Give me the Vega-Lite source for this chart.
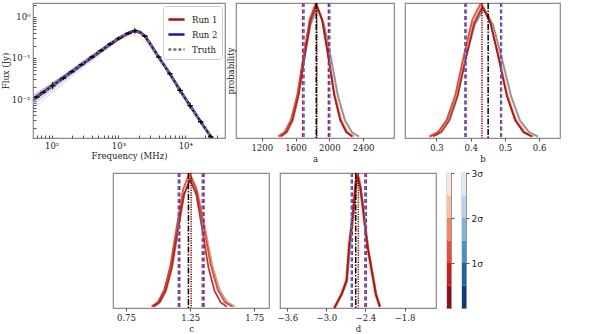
{
 "$schema": "https://vega.github.io/schema/vega-lite/v6.json",
 "padding": {"left": 0, "top": 0, "right": 2, "bottom": 0},
 "background": "white",
 "config": {
  "view": {"stroke": "#8a8a8a", "strokeWidth": 1.2},
  "font": "DejaVu Serif",
  "axis": {"labelFont": "DejaVu Serif", "titleFont": "DejaVu Serif", "labelFontSize": 8.5, "titleFontSize": 8.5, "titleFontWeight": "normal", "labelColor": "#222222", "titleColor": "#222222", "domain": false, "grid": false, "tickColor": "#555555", "tickSize": 3, "labelPadding": 2, "titlePadding": 3, "labelFlush": false, "labelOverlap": false}
 },
 "datasets": {
  "band": [
   {"f": 52.7, "lo": 0.0072, "hi": 0.0125}, {"f": 100, "lo": 0.0165, "hi": 0.0245}, {"f": 300, "lo": 0.063, "hi": 0.086}, {"f": 1000, "lo": 0.27, "hi": 0.33}, {"f": 1300, "lo": 0.345, "hi": 0.41}, {"f": 1700, "lo": 0.42, "hi": 0.505}, {"f": 2100, "lo": 0.39, "hi": 0.47}, {"f": 2500, "lo": 0.315, "hi": 0.37}, {"f": 3000, "lo": 0.205, "hi": 0.235}, {"f": 5900, "lo": 0.038, "hi": 0.0445}, {"f": 11800, "lo": 0.0064, "hi": 0.0075}, {"f": 30000, "lo": 0.00065, "hi": 0.00077}
  ],
  "samp": [
   {"id": "s1", "run": "r", "f": 52.7, "v": 0.0085}, {"id": "s1", "run": "r", "f": 300, "v": 0.068}, {"id": "s1", "run": "r", "f": 1000, "v": 0.26}, {"id": "s1", "run": "r", "f": 1500, "v": 0.36}, {"id": "s1", "run": "r", "f": 2000, "v": 0.34}, {"id": "s1", "run": "r", "f": 3000, "v": 0.19}, {"id": "s1", "run": "r", "f": 5900, "v": 0.038}, {"id": "s1", "run": "r", "f": 11800, "v": 0.0066}, {"id": "s1", "run": "r", "f": 30000, "v": 0.00068},
   {"id": "s2", "run": "r", "f": 52.7, "v": 0.012}, {"id": "s2", "run": "r", "f": 300, "v": 0.085}, {"id": "s2", "run": "r", "f": 1000, "v": 0.33}, {"id": "s2", "run": "r", "f": 1700, "v": 0.5}, {"id": "s2", "run": "r", "f": 2300, "v": 0.42}, {"id": "s2", "run": "r", "f": 3000, "v": 0.24}, {"id": "s2", "run": "r", "f": 5900, "v": 0.044}, {"id": "s2", "run": "r", "f": 11800, "v": 0.0072}, {"id": "s2", "run": "r", "f": 30000, "v": 0.00075},
   {"id": "s3", "run": "r", "f": 52.7, "v": 0.0105}, {"id": "s3", "run": "r", "f": 300, "v": 0.078}, {"id": "s3", "run": "r", "f": 1000, "v": 0.31}, {"id": "s3", "run": "r", "f": 1700, "v": 0.47}, {"id": "s3", "run": "r", "f": 2200, "v": 0.42}, {"id": "s3", "run": "r", "f": 3000, "v": 0.22}, {"id": "s3", "run": "r", "f": 5900, "v": 0.041}, {"id": "s3", "run": "r", "f": 11800, "v": 0.0068}, {"id": "s3", "run": "r", "f": 30000, "v": 0.0007},
   {"id": "s4", "run": "b", "f": 52.7, "v": 0.006}, {"id": "s4", "run": "b", "f": 300, "v": 0.06}, {"id": "s4", "run": "b", "f": 1000, "v": 0.28}, {"id": "s4", "run": "b", "f": 1700, "v": 0.44}, {"id": "s4", "run": "b", "f": 2200, "v": 0.4}, {"id": "s4", "run": "b", "f": 3000, "v": 0.22}, {"id": "s4", "run": "b", "f": 5900, "v": 0.042}, {"id": "s4", "run": "b", "f": 11800, "v": 0.0071}, {"id": "s4", "run": "b", "f": 30000, "v": 0.00074},
   {"id": "s5", "run": "b", "f": 52.7, "v": 0.0072}, {"id": "s5", "run": "b", "f": 300, "v": 0.066}, {"id": "s5", "run": "b", "f": 1000, "v": 0.29}, {"id": "s5", "run": "b", "f": 1700, "v": 0.45}, {"id": "s5", "run": "b", "f": 2200, "v": 0.41}, {"id": "s5", "run": "b", "f": 3000, "v": 0.22}, {"id": "s5", "run": "b", "f": 5900, "v": 0.042}, {"id": "s5", "run": "b", "f": 11800, "v": 0.007}, {"id": "s5", "run": "b", "f": 30000, "v": 0.00072},
   {"id": "s6", "run": "b", "f": 52.7, "v": 0.0115}, {"id": "s6", "run": "b", "f": 300, "v": 0.082}, {"id": "s6", "run": "b", "f": 1000, "v": 0.32}, {"id": "s6", "run": "b", "f": 1700, "v": 0.49}, {"id": "s6", "run": "b", "f": 2200, "v": 0.44}, {"id": "s6", "run": "b", "f": 3000, "v": 0.23}, {"id": "s6", "run": "b", "f": 5900, "v": 0.043}, {"id": "s6", "run": "b", "f": 11800, "v": 0.0071}, {"id": "s6", "run": "b", "f": 30000, "v": 0.00073}
  ],
  "main": [
   {"s": "Run 1", "f": 52.7, "v": 0.0098}, {"s": "Run 1", "f": 100, "v": 0.0206}, {"s": "Run 1", "f": 200, "v": 0.046}, {"s": "Run 1", "f": 400, "v": 0.103}, {"s": "Run 1", "f": 700, "v": 0.198}, {"s": "Run 1", "f": 1000, "v": 0.29}, {"s": "Run 1", "f": 1300, "v": 0.37}, {"s": "Run 1", "f": 1600, "v": 0.43}, {"s": "Run 1", "f": 1800, "v": 0.45}, {"s": "Run 1", "f": 2100, "v": 0.42}, {"s": "Run 1", "f": 2500, "v": 0.335}, {"s": "Run 1", "f": 3000, "v": 0.218}, {"s": "Run 1", "f": 4000, "v": 0.105}, {"s": "Run 1", "f": 5900, "v": 0.041}, {"s": "Run 1", "f": 8360, "v": 0.0161}, {"s": "Run 1", "f": 11800, "v": 0.0068}, {"s": "Run 1", "f": 17000, "v": 0.0028}, {"s": "Run 1", "f": 25000, "v": 0.0011}, {"s": "Run 1", "f": 30000, "v": 0.0007},
   {"s": "Run 2", "f": 52.7, "v": 0.0096}, {"s": "Run 2", "f": 100, "v": 0.0204}, {"s": "Run 2", "f": 200, "v": 0.0464}, {"s": "Run 2", "f": 400, "v": 0.105}, {"s": "Run 2", "f": 700, "v": 0.203}, {"s": "Run 2", "f": 1000, "v": 0.3}, {"s": "Run 2", "f": 1300, "v": 0.38}, {"s": "Run 2", "f": 1600, "v": 0.44}, {"s": "Run 2", "f": 1800, "v": 0.46}, {"s": "Run 2", "f": 2100, "v": 0.43}, {"s": "Run 2", "f": 2500, "v": 0.34}, {"s": "Run 2", "f": 3000, "v": 0.22}, {"s": "Run 2", "f": 4000, "v": 0.105}, {"s": "Run 2", "f": 5900, "v": 0.041}, {"s": "Run 2", "f": 8360, "v": 0.0162}, {"s": "Run 2", "f": 11800, "v": 0.0069}, {"s": "Run 2", "f": 17000, "v": 0.0028}, {"s": "Run 2", "f": 25000, "v": 0.00112}, {"s": "Run 2", "f": 30000, "v": 0.0007},
   {"s": "Truth", "f": 52.7, "v": 0.0096}, {"s": "Truth", "f": 100, "v": 0.0204}, {"s": "Truth", "f": 200, "v": 0.0464}, {"s": "Truth", "f": 400, "v": 0.105}, {"s": "Truth", "f": 700, "v": 0.203}, {"s": "Truth", "f": 1000, "v": 0.3}, {"s": "Truth", "f": 1300, "v": 0.38}, {"s": "Truth", "f": 1600, "v": 0.44}, {"s": "Truth", "f": 1800, "v": 0.46}, {"s": "Truth", "f": 2100, "v": 0.43}, {"s": "Truth", "f": 2500, "v": 0.34}, {"s": "Truth", "f": 3000, "v": 0.22}, {"s": "Truth", "f": 4000, "v": 0.105}, {"s": "Truth", "f": 5900, "v": 0.041}, {"s": "Truth", "f": 8360, "v": 0.0162}, {"s": "Truth", "f": 11800, "v": 0.0069}, {"s": "Truth", "f": 17000, "v": 0.0028}, {"s": "Truth", "f": 25000, "v": 0.00112}, {"s": "Truth", "f": 30000, "v": 0.0007}
  ],
  "pts": [
   {"f": 60, "v": 0.0112, "lo": 0.0102, "hi": 0.0123}, {"f": 75, "v": 0.0145, "lo": 0.0132, "hi": 0.0159}, {"f": 104, "v": 0.021, "lo": 0.0172, "hi": 0.026}, {"f": 150, "v": 0.032, "lo": 0.029, "hi": 0.035}, {"f": 200, "v": 0.046, "lo": 0.042, "hi": 0.05}, {"f": 280, "v": 0.069, "lo": 0.063, "hi": 0.076}, {"f": 400, "v": 0.105, "lo": 0.096, "hi": 0.115}, {"f": 550, "v": 0.152, "lo": 0.139, "hi": 0.166}, {"f": 750, "v": 0.22, "lo": 0.2, "hi": 0.24}, {"f": 1000, "v": 0.3, "lo": 0.275, "hi": 0.33}, {"f": 1400, "v": 0.4, "lo": 0.365, "hi": 0.44}, {"f": 1758, "v": 0.46, "lo": 0.39, "hi": 0.54}, {"f": 2500, "v": 0.34, "lo": 0.31, "hi": 0.37}, {"f": 4000, "v": 0.105, "lo": 0.096, "hi": 0.115}, {"f": 5900, "v": 0.041, "lo": 0.037, "hi": 0.045}, {"f": 8360, "v": 0.0162, "lo": 0.0138, "hi": 0.019}, {"f": 11800, "v": 0.0069, "lo": 0.0058, "hi": 0.0082}, {"f": 17000, "v": 0.0028, "lo": 0.0025, "hi": 0.0031}, {"f": 24000, "v": 0.0012, "lo": 0.0011, "hi": 0.0013}
  ],
  "a": [
   {"k": "A", "x": 1390, "y": 0.011}, {"k": "A", "x": 1467, "y": 0.042}, {"k": "A", "x": 1545, "y": 0.13}, {"k": "A", "x": 1622, "y": 0.31}, {"k": "A", "x": 1700, "y": 0.59}, {"k": "A", "x": 1777, "y": 0.84}, {"k": "A", "x": 1855, "y": 0.96}, {"k": "A", "x": 1937, "y": 0.84}, {"k": "A", "x": 2020, "y": 0.59}, {"k": "A", "x": 2102, "y": 0.31}, {"k": "A", "x": 2185, "y": 0.13}, {"k": "A", "x": 2267, "y": 0.042}, {"k": "A", "x": 2350, "y": 0.011},
   {"k": "B", "x": 1395, "y": 0.011}, {"k": "B", "x": 1470, "y": 0.043}, {"k": "B", "x": 1545, "y": 0.132}, {"k": "B", "x": 1620, "y": 0.31}, {"k": "B", "x": 1695, "y": 0.6}, {"k": "B", "x": 1770, "y": 0.86}, {"k": "B", "x": 1845, "y": 0.98}, {"k": "B", "x": 1920, "y": 0.86}, {"k": "B", "x": 1995, "y": 0.6}, {"k": "B", "x": 2070, "y": 0.31}, {"k": "B", "x": 2145, "y": 0.132}, {"k": "B", "x": 2220, "y": 0.043}, {"k": "B", "x": 2295, "y": 0.011},
   {"k": "C", "x": 1405, "y": 0.011}, {"k": "C", "x": 1477, "y": 0.044}, {"k": "C", "x": 1550, "y": 0.135}, {"k": "C", "x": 1622, "y": 0.32}, {"k": "C", "x": 1695, "y": 0.61}, {"k": "C", "x": 1767, "y": 0.88}, {"k": "C", "x": 1840, "y": 1.0}, {"k": "C", "x": 1912, "y": 0.88}, {"k": "C", "x": 1985, "y": 0.61}, {"k": "C", "x": 2057, "y": 0.32}, {"k": "C", "x": 2130, "y": 0.135}, {"k": "C", "x": 2202, "y": 0.044}, {"k": "C", "x": 2275, "y": 0.011},
   {"k": "D", "x": 1428, "y": 0.011}, {"k": "D", "x": 1498, "y": 0.044}, {"k": "D", "x": 1568, "y": 0.134}, {"k": "D", "x": 1638, "y": 0.32}, {"k": "D", "x": 1708, "y": 0.6}, {"k": "D", "x": 1778, "y": 0.87}, {"k": "D", "x": 1848, "y": 0.99}, {"k": "D", "x": 1918, "y": 0.87}, {"k": "D", "x": 1988, "y": 0.6}, {"k": "D", "x": 2058, "y": 0.32}, {"k": "D", "x": 2128, "y": 0.134}, {"k": "D", "x": 2198, "y": 0.044}, {"k": "D", "x": 2268, "y": 0.011},
   {"k": "r1", "x": 1685}, {"k": "r1", "x": 1990}, {"k": "r2", "x": 1700}, {"k": "r2", "x": 2005}, {"k": "m", "x": 1852}, {"k": "t", "x": 1845}
  ],
  "b": [
   {"k": "A", "x": 0.279, "y": 0.011}, {"k": "A", "x": 0.306, "y": 0.042}, {"k": "A", "x": 0.332, "y": 0.13}, {"k": "A", "x": 0.359, "y": 0.31}, {"k": "A", "x": 0.385, "y": 0.59}, {"k": "A", "x": 0.412, "y": 0.84}, {"k": "A", "x": 0.438, "y": 0.96}, {"k": "A", "x": 0.465, "y": 0.84}, {"k": "A", "x": 0.491, "y": 0.59}, {"k": "A", "x": 0.518, "y": 0.31}, {"k": "A", "x": 0.544, "y": 0.13}, {"k": "A", "x": 0.571, "y": 0.042}, {"k": "A", "x": 0.597, "y": 0.011},
   {"k": "B", "x": 0.279, "y": 0.011}, {"k": "B", "x": 0.305, "y": 0.043}, {"k": "B", "x": 0.33, "y": 0.132}, {"k": "B", "x": 0.356, "y": 0.31}, {"k": "B", "x": 0.381, "y": 0.6}, {"k": "B", "x": 0.407, "y": 0.86}, {"k": "B", "x": 0.432, "y": 0.98}, {"k": "B", "x": 0.458, "y": 0.86}, {"k": "B", "x": 0.483, "y": 0.6}, {"k": "B", "x": 0.509, "y": 0.31}, {"k": "B", "x": 0.534, "y": 0.132}, {"k": "B", "x": 0.56, "y": 0.043}, {"k": "B", "x": 0.585, "y": 0.011},
   {"k": "C", "x": 0.28, "y": 0.011}, {"k": "C", "x": 0.305, "y": 0.044}, {"k": "C", "x": 0.33, "y": 0.135}, {"k": "C", "x": 0.355, "y": 0.32}, {"k": "C", "x": 0.38, "y": 0.61}, {"k": "C", "x": 0.405, "y": 0.88}, {"k": "C", "x": 0.43, "y": 1.0}, {"k": "C", "x": 0.455, "y": 0.88}, {"k": "C", "x": 0.48, "y": 0.61}, {"k": "C", "x": 0.505, "y": 0.32}, {"k": "C", "x": 0.53, "y": 0.135}, {"k": "C", "x": 0.555, "y": 0.044}, {"k": "C", "x": 0.58, "y": 0.011},
   {"k": "D", "x": 0.29, "y": 0.011}, {"k": "D", "x": 0.314, "y": 0.043}, {"k": "D", "x": 0.338, "y": 0.131}, {"k": "D", "x": 0.362, "y": 0.31}, {"k": "D", "x": 0.386, "y": 0.59}, {"k": "D", "x": 0.41, "y": 0.85}, {"k": "D", "x": 0.434, "y": 0.97}, {"k": "D", "x": 0.458, "y": 0.85}, {"k": "D", "x": 0.482, "y": 0.59}, {"k": "D", "x": 0.506, "y": 0.31}, {"k": "D", "x": 0.53, "y": 0.131}, {"k": "D", "x": 0.554, "y": 0.043}, {"k": "D", "x": 0.578, "y": 0.011},
   {"k": "r1", "x": 0.386}, {"k": "r1", "x": 0.488}, {"k": "r2", "x": 0.383}, {"k": "r2", "x": 0.49}, {"k": "m", "x": 0.433}, {"k": "t", "x": 0.451}
  ],
  "c": [
   {"k": "A", "x": 0.95, "y": 0.011}, {"k": "A", "x": 1.0, "y": 0.042}, {"k": "A", "x": 1.05, "y": 0.13}, {"k": "A", "x": 1.1, "y": 0.31}, {"k": "A", "x": 1.15, "y": 0.59}, {"k": "A", "x": 1.2, "y": 0.84}, {"k": "A", "x": 1.25, "y": 0.96}, {"k": "A", "x": 1.308, "y": 0.84}, {"k": "A", "x": 1.365, "y": 0.59}, {"k": "A", "x": 1.423, "y": 0.31}, {"k": "A", "x": 1.48, "y": 0.13}, {"k": "A", "x": 1.538, "y": 0.042}, {"k": "A", "x": 1.595, "y": 0.011},
   {"k": "B", "x": 0.97, "y": 0.011}, {"k": "B", "x": 1.018, "y": 0.043}, {"k": "B", "x": 1.065, "y": 0.132}, {"k": "B", "x": 1.113, "y": 0.31}, {"k": "B", "x": 1.16, "y": 0.6}, {"k": "B", "x": 1.208, "y": 0.86}, {"k": "B", "x": 1.255, "y": 0.98}, {"k": "B", "x": 1.31, "y": 0.86}, {"k": "B", "x": 1.365, "y": 0.6}, {"k": "B", "x": 1.42, "y": 0.31}, {"k": "B", "x": 1.475, "y": 0.132}, {"k": "B", "x": 1.53, "y": 0.043}, {"k": "B", "x": 1.585, "y": 0.011},
   {"k": "C", "x": 0.951, "y": 0.011}, {"k": "C", "x": 1.0, "y": 0.044}, {"k": "C", "x": 1.049, "y": 0.135}, {"k": "C", "x": 1.098, "y": 0.32}, {"k": "C", "x": 1.147, "y": 0.61}, {"k": "C", "x": 1.196, "y": 0.88}, {"k": "C", "x": 1.245, "y": 1.0}, {"k": "C", "x": 1.3, "y": 0.88}, {"k": "C", "x": 1.355, "y": 0.61}, {"k": "C", "x": 1.41, "y": 0.32}, {"k": "C", "x": 1.465, "y": 0.135}, {"k": "C", "x": 1.52, "y": 0.044}, {"k": "C", "x": 1.575, "y": 0.011},
   {"k": "D", "x": 0.965, "y": 0.01}, {"k": "D", "x": 1.013, "y": 0.042}, {"k": "D", "x": 1.06, "y": 0.128}, {"k": "D", "x": 1.108, "y": 0.3}, {"k": "D", "x": 1.155, "y": 0.58}, {"k": "D", "x": 1.203, "y": 0.84}, {"k": "D", "x": 1.25, "y": 0.95}, {"k": "D", "x": 1.298, "y": 0.84}, {"k": "D", "x": 1.345, "y": 0.58}, {"k": "D", "x": 1.393, "y": 0.3}, {"k": "D", "x": 1.44, "y": 0.128}, {"k": "D", "x": 1.488, "y": 0.042}, {"k": "D", "x": 1.535, "y": 0.01},
   {"k": "r1", "x": 1.168}, {"k": "r1", "x": 1.357}, {"k": "r2", "x": 1.158}, {"k": "r2", "x": 1.345}, {"k": "m", "x": 1.258}, {"k": "t", "x": 1.237}
  ],
  "d": [
   {"k": "A", "x": -2.87, "y": 0}, {"k": "A", "x": -2.76, "y": 0.1}, {"k": "A", "x": -2.68, "y": 0.2}, {"k": "A", "x": -2.64, "y": 0.45}, {"k": "A", "x": -2.58, "y": 0.69}, {"k": "A", "x": -2.54, "y": 0.9}, {"k": "A", "x": -2.51, "y": 0.96}, {"k": "A", "x": -2.47, "y": 0.88}, {"k": "A", "x": -2.43, "y": 0.73}, {"k": "A", "x": -2.39, "y": 0.57}, {"k": "A", "x": -2.35, "y": 0.42}, {"k": "A", "x": -2.3, "y": 0.29}, {"k": "A", "x": -2.23, "y": 0.1}, {"k": "A", "x": -2.17, "y": 0.01},
   {"k": "B", "x": -2.89, "y": 0}, {"k": "B", "x": -2.78, "y": 0.1}, {"k": "B", "x": -2.7, "y": 0.21}, {"k": "B", "x": -2.66, "y": 0.46}, {"k": "B", "x": -2.6, "y": 0.71}, {"k": "B", "x": -2.56, "y": 0.92}, {"k": "B", "x": -2.53, "y": 0.98}, {"k": "B", "x": -2.49, "y": 0.9}, {"k": "B", "x": -2.45, "y": 0.74}, {"k": "B", "x": -2.41, "y": 0.58}, {"k": "B", "x": -2.37, "y": 0.43}, {"k": "B", "x": -2.32, "y": 0.29}, {"k": "B", "x": -2.25, "y": 0.1}, {"k": "B", "x": -2.19, "y": 0.01},
   {"k": "C", "x": -2.88, "y": 0}, {"k": "C", "x": -2.77, "y": 0.1}, {"k": "C", "x": -2.69, "y": 0.21}, {"k": "C", "x": -2.65, "y": 0.47}, {"k": "C", "x": -2.59, "y": 0.72}, {"k": "C", "x": -2.55, "y": 0.94}, {"k": "C", "x": -2.52, "y": 1.0}, {"k": "C", "x": -2.48, "y": 0.92}, {"k": "C", "x": -2.44, "y": 0.76}, {"k": "C", "x": -2.4, "y": 0.59}, {"k": "C", "x": -2.36, "y": 0.44}, {"k": "C", "x": -2.31, "y": 0.3}, {"k": "C", "x": -2.24, "y": 0.1}, {"k": "C", "x": -2.18, "y": 0.01},
   {"k": "D", "x": -2.88, "y": 0}, {"k": "D", "x": -2.77, "y": 0.1}, {"k": "D", "x": -2.69, "y": 0.2}, {"k": "D", "x": -2.65, "y": 0.46}, {"k": "D", "x": -2.59, "y": 0.7}, {"k": "D", "x": -2.55, "y": 0.91}, {"k": "D", "x": -2.52, "y": 0.97}, {"k": "D", "x": -2.48, "y": 0.89}, {"k": "D", "x": -2.44, "y": 0.74}, {"k": "D", "x": -2.4, "y": 0.57}, {"k": "D", "x": -2.36, "y": 0.43}, {"k": "D", "x": -2.31, "y": 0.29}, {"k": "D", "x": -2.24, "y": 0.1}, {"k": "D", "x": -2.18, "y": 0.01},
   {"k": "r1", "x": -2.605}, {"k": "r1", "x": -2.39}, {"k": "r2", "x": -2.617}, {"k": "r2", "x": -2.41}, {"k": "m", "x": -2.51}, {"k": "t", "x": -2.55}
  ],
  "cb": [
   {"b": 1, "lo": 0, "hi": 0.5}, {"b": 2, "lo": 0.5, "hi": 1}, {"b": 3, "lo": 1, "hi": 1.5}, {"b": 4, "lo": 1.5, "hi": 2}, {"b": 5, "lo": 2, "hi": 2.5}, {"b": 6, "lo": 2.5, "hi": 3}
  ]
 },
 "spacing": 4,
 "resolve": {"scale": {"color": "independent", "strokeDash": "independent", "strokeWidth": "independent"}, "legend": {"color": "independent", "strokeDash": "independent", "strokeWidth": "independent"}},
 "vconcat": [
  {
   "spacing": 11,
   "bounds": "flush",
   "resolve": {"scale": {"color": "independent", "strokeDash": "independent", "strokeWidth": "independent"}, "legend": {"color": "independent", "strokeDash": "independent", "strokeWidth": "independent"}},
   "hconcat": [
    {
     "width": 192,
     "height": 135,
     "layer": [
      {
       "data": {"name": "band"},
       "mark": {"type": "area", "color": "#b4b0e4", "opacity": 0.5, "clip": true},
       "encoding": {
        "x": {"field": "f", "type": "quantitative", "scale": {"type": "log", "domain": [52.7, 39300], "nice": false},
         "axis": {"title": "Frequency (MHz)", "values": [60, 70, 80, 90, 100, 200, 300, 400, 500, 600, 700, 800, 900, 1000, 2000, 3000, 4000, 5000, 6000, 7000, 8000, 9000, 10000, 20000, 30000], "labelExpr": "datum.value==100?'10²':datum.value==1000?'10³':datum.value==10000?'10⁴':''", "tickSize": -3, "labelPadding": 6, "titlePadding": 2}},
        "y": {"field": "lo", "type": "quantitative", "scale": {"type": "log", "domain": [0.00112, 2.19], "nice": false},
         "axis": {"title": "Flux (Jy)", "values": [0.002, 0.003, 0.004, 0.005, 0.006, 0.007, 0.008, 0.009, 0.01, 0.02, 0.03, 0.04, 0.05, 0.06, 0.07, 0.08, 0.09, 0.1, 0.2, 0.3, 0.4, 0.5, 0.6, 0.7, 0.8, 0.9, 1, 2], "labelExpr": "datum.value==1?'10⁰':datum.value==0.1?'10⁻¹':datum.value==0.01?'10⁻²':''", "tickSize": -3, "labelPadding": 6, "titlePadding": 1}},
        "y2": {"field": "hi"}
       }
      },
      {
       "data": {"name": "samp"},
       "transform": [{"filter": "datum.run=='r'"}],
       "mark": {"type": "line", "color": "#f08a8a", "strokeWidth": 0.8, "opacity": 0.5, "clip": true},
       "encoding": {"x": {"field": "f", "type": "quantitative"}, "y": {"field": "v", "type": "quantitative"}, "detail": {"field": "id"}}
      },
      {
       "data": {"name": "samp"},
       "transform": [{"filter": "datum.run=='b'"}],
       "mark": {"type": "line", "color": "#8c8ce6", "strokeWidth": 0.8, "opacity": 0.5, "clip": true},
       "encoding": {"x": {"field": "f", "type": "quantitative"}, "y": {"field": "v", "type": "quantitative"}, "detail": {"field": "id"}}
      },
      {
       "data": {"name": "main"},
       "mark": {"type": "line", "clip": true},
       "encoding": {
        "x": {"field": "f", "type": "quantitative"},
        "y": {"field": "v", "type": "quantitative"},
        "color": {"field": "s", "type": "nominal", "scale": {"domain": ["Run 1", "Run 2", "Truth"], "range": ["#a31515", "#1a1aa6", "#707070"]},
         "legend": {"orient": "top-right", "offset": 3, "title": null, "fillColor": "white", "strokeColor": "#cccccc", "padding": 4, "cornerRadius": 3, "labelFont": "DejaVu Serif", "labelFontSize": 8.5, "labelColor": "#222222", "symbolType": "stroke", "symbolSize": 260, "rowPadding": -5, "labelOffset": 6}},
        "strokeDash": {"field": "s", "type": "nominal", "scale": {"domain": ["Run 1", "Run 2", "Truth"], "range": [[1, 0], [1, 0], [3, 2]]}, "legend": {"orient": "top-right", "offset": 3, "title": null, "fillColor": "white", "strokeColor": "#cccccc", "padding": 4, "cornerRadius": 3, "labelFont": "DejaVu Serif", "labelFontSize": 8.5, "labelColor": "#222222", "symbolType": "stroke", "symbolSize": 260, "rowPadding": -5, "labelOffset": 6}},
        "strokeWidth": {"field": "s", "type": "ordinal", "scale": {"domain": ["Run 1", "Run 2", "Truth"], "range": [2.6, 2.4, 1]}, "legend": {"orient": "top-right", "offset": 3, "title": null, "fillColor": "white", "strokeColor": "#cccccc", "padding": 4, "cornerRadius": 3, "labelFont": "DejaVu Serif", "labelFontSize": 8.5, "labelColor": "#222222", "symbolType": "stroke", "symbolSize": 260, "rowPadding": -5, "labelOffset": 6}}
       }
      },
      {
       "data": {"name": "pts"},
       "mark": {"type": "rule", "color": "#000000", "strokeWidth": 1, "clip": true},
       "encoding": {"x": {"field": "f", "type": "quantitative"}, "y": {"field": "lo", "type": "quantitative"}, "y2": {"field": "hi"}}
      },
      {
       "data": {"name": "pts"},
       "mark": {"type": "point", "shape": "M-1,0L1,0", "size": 30, "filled": false, "stroke": "#000000", "strokeWidth": 1.3, "opacity": 1, "clip": true},
       "encoding": {"x": {"field": "f", "type": "quantitative"}, "y": {"field": "v", "type": "quantitative"}}
      }
     ]
    },
    {
     "width": 158,
     "height": 135,
     "data": {"name": "a"},
     "layer": [
      {
       "transform": [{"filter": "isValid(datum.y)"}],
       "mark": {"type": "line", "clip": true, "opacity": 0.8},
       "encoding": {
        "x": {"field": "x", "type": "quantitative", "scale": {"domain": [895, 2765], "nice": false, "zero": false}, "axis": {"values": [1200, 1600, 2000, 2400], "format": "d", "title": "a"}},
        "y": {"field": "y", "type": "quantitative", "scale": {"domain": [0, 1], "nice": false}, "axis": {"title": "probability", "labels": false, "ticks": false, "titlePadding": 1}},
        "color": {"field": "k", "type": "nominal", "scale": {"domain": ["A", "B", "C", "D", "r1", "r2", "m", "t"], "range": ["#7a7a7a", "#f4a582", "#e0301e", "#9b0d0d", "#c4162a", "#4a6fe0", "#8b0000", "#000000"]}, "legend": null},
        "strokeWidth": {"field": "k", "type": "ordinal", "scale": {"domain": ["A", "B", "C", "D", "r1", "r2", "m", "t"], "range": [2, 1.5, 1.2, 1, 1.4, 1.4, 1, 1.4]}, "legend": null},
        "strokeDash": {"field": "k", "type": "nominal", "scale": {"domain": ["A", "B", "C", "D", "r1", "r2", "m", "t"], "range": [[1, 0], [1, 0], [1, 0], [1, 0], [4, 2.5], [4, 2.5], [1.2, 1.2], [6, 1.5, 1.5, 1.5]]}, "legend": null}
       }
      },
      {
       "transform": [{"filter": "!isValid(datum.y)"}],
       "mark": {"type": "rule"},
       "encoding": {
        "x": {"field": "x", "type": "quantitative"},
        "color": {"field": "k", "type": "nominal", "scale": {"domain": ["A", "B", "C", "D", "r1", "r2", "m", "t"], "range": ["#7a7a7a", "#f4a582", "#e0301e", "#9b0d0d", "#c4162a", "#4a6fe0", "#8b0000", "#000000"]}, "legend": null},
        "strokeWidth": {"field": "k", "type": "ordinal", "scale": {"domain": ["A", "B", "C", "D", "r1", "r2", "m", "t"], "range": [2, 1.5, 1.2, 1, 1.4, 1.4, 1, 1.4]}, "legend": null},
        "strokeDash": {"field": "k", "type": "nominal", "scale": {"domain": ["A", "B", "C", "D", "r1", "r2", "m", "t"], "range": [[1, 0], [1, 0], [1, 0], [1, 0], [4, 2.5], [4, 2.5], [1.2, 1.2], [6, 1.5, 1.5, 1.5]]}, "legend": null}
       }
      }
     ]
    },
    {
     "width": 155,
     "height": 135,
     "data": {"name": "b"},
     "layer": [
      {
       "transform": [{"filter": "isValid(datum.y)"}],
       "mark": {"type": "line", "clip": true, "opacity": 0.8},
       "encoding": {
        "x": {"field": "x", "type": "quantitative", "scale": {"domain": [0.208, 0.661], "nice": false, "zero": false}, "axis": {"values": [0.3, 0.4, 0.5, 0.6], "format": ".1f", "title": "b"}},
        "y": {"field": "y", "type": "quantitative", "scale": {"domain": [0, 1], "nice": false}, "axis": null},
        "color": {"field": "k", "type": "nominal", "scale": {"domain": ["A", "B", "C", "D", "r1", "r2", "m", "t"], "range": ["#7a7a7a", "#f4a582", "#e0301e", "#9b0d0d", "#c4162a", "#4a6fe0", "#8b0000", "#000000"]}, "legend": null},
        "strokeWidth": {"field": "k", "type": "ordinal", "scale": {"domain": ["A", "B", "C", "D", "r1", "r2", "m", "t"], "range": [2, 1.5, 1.2, 1, 1.4, 1.4, 1, 1.4]}, "legend": null},
        "strokeDash": {"field": "k", "type": "nominal", "scale": {"domain": ["A", "B", "C", "D", "r1", "r2", "m", "t"], "range": [[1, 0], [1, 0], [1, 0], [1, 0], [4, 2.5], [4, 2.5], [1.2, 1.2], [6, 1.5, 1.5, 1.5]]}, "legend": null}
       }
      },
      {
       "transform": [{"filter": "!isValid(datum.y)"}],
       "mark": {"type": "rule"},
       "encoding": {
        "x": {"field": "x", "type": "quantitative"},
        "color": {"field": "k", "type": "nominal", "scale": {"domain": ["A", "B", "C", "D", "r1", "r2", "m", "t"], "range": ["#7a7a7a", "#f4a582", "#e0301e", "#9b0d0d", "#c4162a", "#4a6fe0", "#8b0000", "#000000"]}, "legend": null},
        "strokeWidth": {"field": "k", "type": "ordinal", "scale": {"domain": ["A", "B", "C", "D", "r1", "r2", "m", "t"], "range": [2, 1.5, 1.2, 1, 1.4, 1.4, 1, 1.4]}, "legend": null},
        "strokeDash": {"field": "k", "type": "nominal", "scale": {"domain": ["A", "B", "C", "D", "r1", "r2", "m", "t"], "range": [[1, 0], [1, 0], [1, 0], [1, 0], [4, 2.5], [4, 2.5], [1.2, 1.2], [6, 1.5, 1.5, 1.5]]}, "legend": null}
       }
      }
     ]
    }
   ]
  },
  {
   "spacing": 11,
   "bounds": "flush",
   "resolve": {"scale": {"color": "independent", "strokeDash": "independent", "strokeWidth": "independent"}, "legend": {"color": "independent", "strokeDash": "independent", "strokeWidth": "independent"}},
   "hconcat": [
    {
     "width": 69,
     "height": 135,
     "view": {"stroke": null},
     "data": {"values": [{}]},
     "mark": {"type": "point", "opacity": 0},
     "encoding": {}
    },
    {
     "width": 156,
     "height": 135,
     "data": {"name": "c"},
     "layer": [
      {
       "transform": [{"filter": "isValid(datum.y)"}],
       "mark": {"type": "line", "clip": true, "opacity": 0.8},
       "encoding": {
        "x": {"field": "x", "type": "quantitative", "scale": {"domain": [0.649, 1.865], "nice": false, "zero": false}, "axis": {"values": [0.75, 1.0, 1.25, 1.5, 1.75], "format": ".2f", "title": "c"}},
        "y": {"field": "y", "type": "quantitative", "scale": {"domain": [0, 1], "nice": false}, "axis": null},
        "color": {"field": "k", "type": "nominal", "scale": {"domain": ["A", "B", "C", "D", "r1", "r2", "m", "t"], "range": ["#7a7a7a", "#f4a582", "#e0301e", "#9b0d0d", "#c4162a", "#4a6fe0", "#8b0000", "#000000"]}, "legend": null},
        "strokeWidth": {"field": "k", "type": "ordinal", "scale": {"domain": ["A", "B", "C", "D", "r1", "r2", "m", "t"], "range": [2, 1.5, 1.2, 1, 1.4, 1.4, 1, 1.4]}, "legend": null},
        "strokeDash": {"field": "k", "type": "nominal", "scale": {"domain": ["A", "B", "C", "D", "r1", "r2", "m", "t"], "range": [[1, 0], [1, 0], [1, 0], [1, 0], [4, 2.5], [4, 2.5], [1.2, 1.2], [6, 1.5, 1.5, 1.5]]}, "legend": null}
       }
      },
      {
       "transform": [{"filter": "!isValid(datum.y)"}],
       "mark": {"type": "rule"},
       "encoding": {
        "x": {"field": "x", "type": "quantitative"},
        "color": {"field": "k", "type": "nominal", "scale": {"domain": ["A", "B", "C", "D", "r1", "r2", "m", "t"], "range": ["#7a7a7a", "#f4a582", "#e0301e", "#9b0d0d", "#c4162a", "#4a6fe0", "#8b0000", "#000000"]}, "legend": null},
        "strokeWidth": {"field": "k", "type": "ordinal", "scale": {"domain": ["A", "B", "C", "D", "r1", "r2", "m", "t"], "range": [2, 1.5, 1.2, 1, 1.4, 1.4, 1, 1.4]}, "legend": null},
        "strokeDash": {"field": "k", "type": "nominal", "scale": {"domain": ["A", "B", "C", "D", "r1", "r2", "m", "t"], "range": [[1, 0], [1, 0], [1, 0], [1, 0], [4, 2.5], [4, 2.5], [1.2, 1.2], [6, 1.5, 1.5, 1.5]]}, "legend": null}
       }
      }
     ]
    },
    {
     "width": 156,
     "height": 135,
     "data": {"name": "d"},
     "layer": [
      {
       "transform": [{"filter": "isValid(datum.y)"}],
       "mark": {"type": "line", "clip": true, "opacity": 0.8},
       "encoding": {
        "x": {"field": "x", "type": "quantitative", "scale": {"domain": [-3.713, -1.316], "nice": false, "zero": false}, "axis": {"values": [-3.6, -3.0, -2.4, -1.8], "format": ".1f", "title": "d"}},
        "y": {"field": "y", "type": "quantitative", "scale": {"domain": [0, 1], "nice": false}, "axis": null},
        "color": {"field": "k", "type": "nominal", "scale": {"domain": ["A", "B", "C", "D", "r1", "r2", "m", "t"], "range": ["#7a7a7a", "#f4a582", "#e0301e", "#9b0d0d", "#c4162a", "#4a6fe0", "#8b0000", "#000000"]}, "legend": null},
        "strokeWidth": {"field": "k", "type": "ordinal", "scale": {"domain": ["A", "B", "C", "D", "r1", "r2", "m", "t"], "range": [2, 1.5, 1.2, 1, 1.4, 1.4, 1, 1.4]}, "legend": null},
        "strokeDash": {"field": "k", "type": "nominal", "scale": {"domain": ["A", "B", "C", "D", "r1", "r2", "m", "t"], "range": [[1, 0], [1, 0], [1, 0], [1, 0], [4, 2.5], [4, 2.5], [1.2, 1.2], [6, 1.5, 1.5, 1.5]]}, "legend": null}
       }
      },
      {
       "transform": [{"filter": "!isValid(datum.y)"}],
       "mark": {"type": "rule"},
       "encoding": {
        "x": {"field": "x", "type": "quantitative"},
        "color": {"field": "k", "type": "nominal", "scale": {"domain": ["A", "B", "C", "D", "r1", "r2", "m", "t"], "range": ["#7a7a7a", "#f4a582", "#e0301e", "#9b0d0d", "#c4162a", "#4a6fe0", "#8b0000", "#000000"]}, "legend": null},
        "strokeWidth": {"field": "k", "type": "ordinal", "scale": {"domain": ["A", "B", "C", "D", "r1", "r2", "m", "t"], "range": [2, 1.5, 1.2, 1, 1.4, 1.4, 1, 1.4]}, "legend": null},
        "strokeDash": {"field": "k", "type": "nominal", "scale": {"domain": ["A", "B", "C", "D", "r1", "r2", "m", "t"], "range": [[1, 0], [1, 0], [1, 0], [1, 0], [4, 2.5], [4, 2.5], [1.2, 1.2], [6, 1.5, 1.5, 1.5]]}, "legend": null}
       }
      }
     ]
    },
    {
     "width": 4,
     "height": 135,
     "data": {"name": "cb"},
     "mark": {"type": "rect"},
     "encoding": {
      "y": {"field": "lo", "type": "quantitative", "scale": {"domain": [0, 3], "nice": false}, "axis": {"orient": "right", "values": [1, 2, 3], "labels": false, "tickSize": 3, "title": null}},
      "y2": {"field": "hi"},
      "color": {"field": "b", "type": "ordinal", "scale": {"domain": [1, 2, 3, 4, 5, 6], "range": ["#8e0f17", "#cd1c20", "#ee4b36", "#f8825f", "#fbbca2", "#fee3d6"]}, "legend": null}
     }
    },
    {
     "width": 4,
     "height": 135,
     "data": {"name": "cb"},
     "mark": {"type": "rect"},
     "encoding": {
      "y": {"field": "lo", "type": "quantitative", "scale": {"domain": [0, 3], "nice": false}, "axis": {"orient": "right", "values": [1, 2, 3], "labelExpr": "datum.value + 'σ'", "labelFont": "DejaVu Sans", "labelFontSize": 9, "tickSize": 3, "title": null}},
      "y2": {"field": "hi"},
      "color": {"field": "b", "type": "ordinal", "scale": {"domain": [1, 2, 3, 4, 5, 6], "range": ["#0b3b7a", "#1d63a6", "#4a92c6", "#7fb4d8", "#b8d2e8", "#e0ebf5"]}, "legend": null}
     }
    }
   ]
  }
 ]
}
